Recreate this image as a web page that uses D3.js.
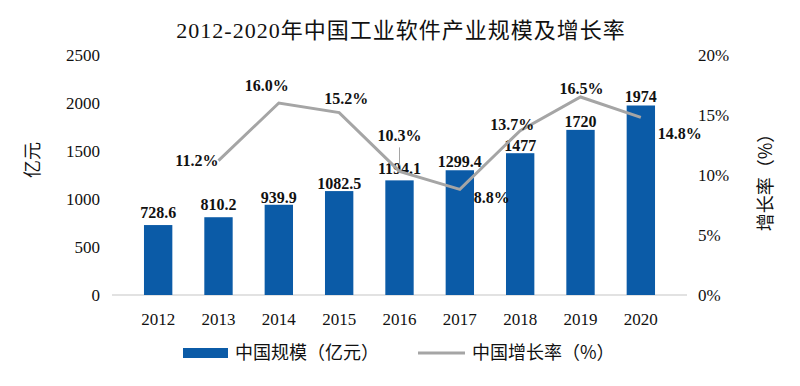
<!DOCTYPE html>
<html>
<head>
<meta charset="utf-8">
<script src="https://cdn.jsdelivr.net/npm/d3@7"></script>
<style>
  body { margin: 0; background: #fff; }
  svg { display: block; }
</style>
</head>
<body>
<svg id="chart" width="800" height="386"></svg>
<script>
const years = ["2012", "2013", "2014", "2015", "2016", "2017", "2018", "2019", "2020"];
const scale = [728.6, 810.2, 939.9, 1082.5, 1194.1, 1299.4, 1477, 1720, 1974];
const growth = [null, 11.2, 16.0, 15.2, 10.3, 8.8, 13.7, 16.5, 14.8];
const leftTicks = [0, 500, 1000, 1500, 2000, 2500];
const rightTicks = [0, 5, 10, 15, 20];

const serif = "'Liberation Serif', 'Times New Roman', 'Noto Sans CJK SC', serif";
const cjk = "'Noto Sans CJK SC', sans-serif";

const svg = d3.select("#chart"),
      margin = { top: 55, right: 113, bottom: 91, left: 112 },
      width = +svg.attr("width") - margin.left - margin.right,
      height = +svg.attr("height") - margin.top - margin.bottom;

const g = svg.append("g")
    .attr("transform", `translate(${margin.left},${margin.top})`);

const x = d3.scaleBand()
    .domain(years)
    .range([0, width])
    .padding(0.53);

const y = d3.scaleLinear().domain([0, 2500]).range([height, 0]);
const y2 = d3.scaleLinear().domain([0, 20]).range([height, 0]);

// Title
svg.append("text")
    .attr("x", 401)
    .attr("y", 38)
    .attr("text-anchor", "middle")
    .attr("font-family", serif)
    .attr("font-size", "22px")
    .attr("letter-spacing", "1px")
    .attr("fill", "#111")
    .text("2012-2020年中国工业软件产业规模及增长率");

// Left axis labels
g.selectAll(".ly")
    .data(leftTicks)
    .enter()
    .append("text")
    .attr("x", -12)
    .attr("y", d => y(d))
    .attr("dy", "0.35em")
    .attr("text-anchor", "end")
    .attr("font-family", serif)
    .attr("font-size", "17px")
    .attr("fill", "#111")
    .text(d => d);

// Right axis labels
g.selectAll(".ry")
    .data(rightTicks)
    .enter()
    .append("text")
    .attr("x", width + 11)
    .attr("y", d => y2(d))
    .attr("dy", "0.35em")
    .attr("text-anchor", "start")
    .attr("font-family", serif)
    .attr("font-size", "17px")
    .attr("fill", "#111")
    .text(d => d + "%");

// X axis line + labels
g.append("line")
    .attr("x1", 0).attr("x2", width)
    .attr("y1", height).attr("y2", height)
    .attr("stroke", "#d9d9d9")
    .attr("stroke-width", 1.5);

g.selectAll(".xl")
    .data(years)
    .enter()
    .append("text")
    .attr("x", d => x(d) + x.bandwidth() / 2)
    .attr("y", height + 24)
    .attr("dy", "0.35em")
    .attr("text-anchor", "middle")
    .attr("font-family", serif)
    .attr("font-size", "17px")
    .attr("fill", "#111")
    .text(d => d);

// Axis titles
svg.append("text")
    .attr("transform", "translate(33,160) rotate(-90)")
    .attr("text-anchor", "middle")
    .attr("dy", "0.35em")
    .attr("font-family", cjk)
    .attr("font-size", "18px")
    .attr("fill", "#111")
    .text("亿元");

svg.append("text")
    .attr("transform", "translate(766,178) rotate(-90)")
    .attr("text-anchor", "middle")
    .attr("dy", "0.35em")
    .attr("font-family", cjk)
    .attr("font-size", "18px")
    .attr("fill", "#111")
    .text("增长率（%）");

// Bars
g.selectAll("rect.bar")
    .data(scale)
    .enter()
    .append("rect")
    .attr("class", "bar")
    .attr("x", (d, i) => x(years[i]))
    .attr("width", x.bandwidth())
    .attr("y", d => y(d))
    .attr("height", d => height - y(d))
    .attr("fill", "#0b5ba7");

// Bar labels
const barLabelGap = [7, 7, 2, 2, 6, 3, 2, 3, 3];
g.selectAll(".bar-label")
    .data(scale)
    .enter()
    .append("text")
    .attr("class", "bar-label")
    .attr("x", (d, i) => x(years[i]) + x.bandwidth() / 2)
    .attr("y", (d, i) => y(d) - barLabelGap[i])
    .attr("text-anchor", "middle")
    .attr("font-family", serif)
    .attr("font-size", "16px")
    .attr("font-weight", "bold")
    .attr("fill", "#111")
    .text(d => d);

// Growth line
const pts = growth
    .map((v, i) => ({ year: years[i], v }))
    .filter(d => d.v !== null);

const line = d3.line()
    .x(d => x(d.year) + x.bandwidth() / 2)
    .y(d => y2(d.v));

g.append("path")
    .datum(pts)
    .attr("fill", "none")
    .attr("stroke", "#a5a5a5")
    .attr("stroke-width", 3)
    .attr("d", line);

// Growth labels (offset from point)
const growthLabelPos = {
    "2013": { dx: 0, dy: 5, anchor: "end" },
    "2014": { dx: -12, dy: -12, anchor: "middle" },
    "2015": { dx: 7, dy: -9, anchor: "middle" },
    "2016": { dx: 0, dy: -30, anchor: "middle" },
    "2017": { dx: 32, dy: 14, anchor: "middle" },
    "2018": { dx: -8, dy: -1, anchor: "middle" },
    "2019": { dx: 1, dy: -3, anchor: "middle" },
    "2020": { dx: 39, dy: 22, anchor: "middle" }
};

// leader line for 2016
const p16 = pts.find(d => d.year === "2016");
g.append("line")
    .attr("x1", x("2016") + x.bandwidth() / 2)
    .attr("x2", x("2016") + x.bandwidth() / 2)
    .attr("y1", y2(p16.v) - 24)
    .attr("y2", y2(p16.v) - 6)
    .attr("stroke", "#a5a5a5")
    .attr("stroke-width", 1);

g.selectAll(".g-label")
    .data(pts)
    .enter()
    .append("text")
    .attr("class", "g-label")
    .attr("x", d => x(d.year) + x.bandwidth() / 2 + growthLabelPos[d.year].dx)
    .attr("y", d => y2(d.v) + growthLabelPos[d.year].dy)
    .attr("text-anchor", d => growthLabelPos[d.year].anchor)
    .attr("font-family", serif)
    .attr("font-size", "16px")
    .attr("font-weight", "bold")
    .attr("fill", "#111")
    .text(d => d.v.toFixed(1) + "%");

// Legend
const legend = svg.append("g");
legend.append("rect")
    .attr("x", 183).attr("y", 348)
    .attr("width", 45).attr("height", 10)
    .attr("fill", "#0b5ba7");
legend.append("text")
    .attr("x", 235).attr("y", 353)
    .attr("dy", "0.35em")
    .attr("font-family", cjk)
    .attr("font-size", "18px")
    .attr("fill", "#111")
    .text("中国规模（亿元）");
legend.append("line")
    .attr("x1", 418).attr("x2", 465)
    .attr("y1", 353).attr("y2", 353)
    .attr("stroke", "#a5a5a5")
    .attr("stroke-width", 3);
legend.append("text")
    .attr("x", 472).attr("y", 353)
    .attr("dy", "0.35em")
    .attr("font-family", cjk)
    .attr("font-size", "18px")
    .attr("fill", "#111")
    .text("中国增长率（%）");
</script>
</body>
</html>
